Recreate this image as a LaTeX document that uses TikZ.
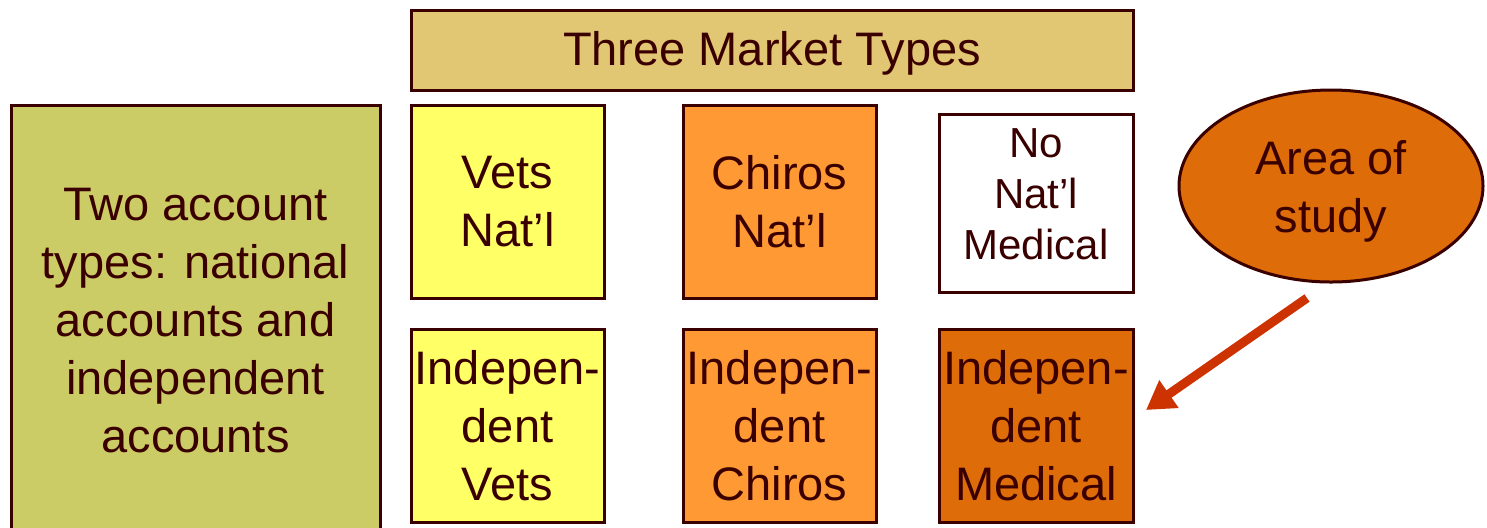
\documentclass[tikz,border=0pt]{standalone}
\usepackage{fontspec}
\setmainfont{Liberation Sans}
\usetikzlibrary{shapes.geometric,arrows.meta}

\definecolor{inkbrown}{HTML}{3A0000}
\definecolor{tanfill}{HTML}{E1C673}
\definecolor{olivefill}{HTML}{CCCC66}
\definecolor{lemonfill}{HTML}{FFFF66}
\definecolor{orangefill}{HTML}{FF9933}
\definecolor{rustfill}{HTML}{DE6C08}
\definecolor{arrowred}{HTML}{CC3300}

\tikzset{
  bigtext/.style={text=inkbrown, align=center, font=\fontsize{23.5}{29}\selectfont},
  cell/.style={draw=inkbrown, line width=1.5pt, inner sep=0pt, bigtext},
  sqcell/.style={cell, minimum width=96.5pt, minimum height=96.5pt},
  pointer/.style={draw=arrowred, line width=4.5pt,
    -{Triangle[length=14pt,width=16pt]}}
}

\begin{document}
\begin{tikzpicture}[x=0.5pt, y=-0.5pt]
  \useasboundingbox (0,0) rectangle (1487,527);
  \clip (0,0) rectangle (1487,527);

  % header over the three market columns
  \node[cell, fill=tanfill, minimum width=361pt, minimum height=40pt,
    label={[bigtext, yshift=-1.5pt]center:Three Market Types}]
    (header) at (772,50) {};

  % account types (runs off the bottom edge)
  \node[cell, fill=olivefill, minimum width=184.5pt, minimum height=217.5pt,
    label={[bigtext, yshift=1pt]center:Two account\\types: national\\accounts and\\independent\\accounts}]
    (accounts) at (195.5,322.5) {};

  % national accounts row
  \node[sqcell, fill=lemonfill] (vetsnat) at (507.5,201.5) {Vets\\Nat’l};
  \node[sqcell, fill=orangefill] (chirosnat) at (779.5,201.5) {Chiros\\Nat’l};
  \node[cell, fill=white, minimum width=97pt, minimum height=89pt,
    label={[bigtext, font=\fontsize{21}{25.5}\selectfont, yshift=4.5pt]center:No\\Nat’l\\Medical}]
    (mednat) at (1036,203) {};

  % independent accounts row
  \node[sqcell, fill=lemonfill] (vetsind) at (507.5,425.5) {Indepen-\\dent\\Vets};
  \node[sqcell, fill=orangefill] (chirosind) at (779.5,425.5) {Indepen-\\dent\\Chiros};
  \node[sqcell, fill=rustfill, minimum width=97pt] (medind) at (1036,425.5) {Indepen-\\dent\\Medical};

  % callout
  \node[cell, ellipse, fill=rustfill, minimum width=152pt, minimum height=96pt,
    label={[bigtext, yshift=-2.5pt]center:Area of\\study}]
    (study) at (1331,186) {};

  \coordinate (ptrstart) at (1307,298);
  \coordinate (ptrend) at (1146,410);
  \draw[pointer] (ptrstart) -- (ptrend);
\end{tikzpicture}
\end{document}
